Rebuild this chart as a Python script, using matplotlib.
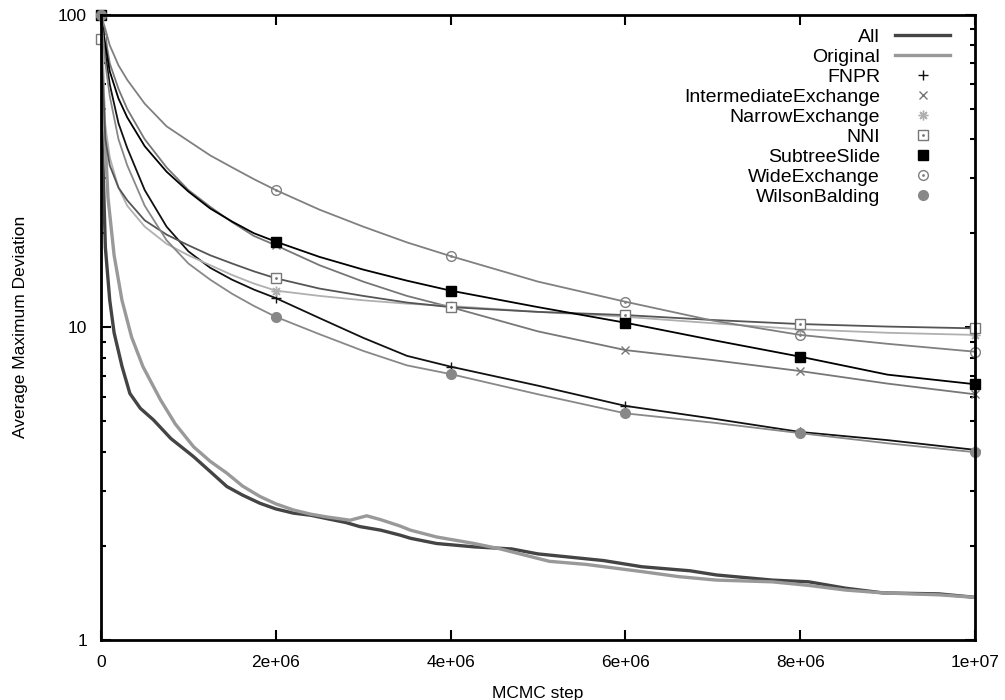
import matplotlib
matplotlib.use("Agg")
import matplotlib.pyplot as plt
from matplotlib.lines import Line2D
from matplotlib.ticker import FixedLocator, LogLocator, NullFormatter
import numpy as np

plt.rcParams["font.family"] = ["Liberation Sans", "DejaVu Sans"]

# operator runs, steps in millions
steps_m = [0, 0.05, 0.1, 0.2, 0.3, 0.5, 0.75, 1.0, 1.25, 1.5, 1.75, 2,
           2.5, 3, 3.5, 4, 5, 6, 7, 8, 9, 10]

wide = [100, 90, 80, 69, 62, 52, 44, 39.5, 35.5, 32.5, 29.8, 27.5,
        23.8, 21, 18.7, 16.9, 14, 12.07, 10.5, 9.45, 8.85, 8.35]
intermediate = [100, 85, 70, 58, 50, 40, 32.5, 27.5, 24.3, 21.7, 19.6, 18.3,
                15.8, 14.0, 12.6, 11.6, 9.7, 8.45, 7.85, 7.24, 6.6, 6.1]
subtree = [100, 80, 66, 54, 47, 38, 31.5, 27.2, 24, 21.8, 20.0, 18.8,
           16.8, 15.3, 14.1, 13.1, 11.6, 10.34, 9.1, 8.05, 7.05, 6.57]
fnpr = [100, 75, 60, 45, 37.5, 27.5, 21, 17.5, 15.5, 14.2, 13.2, 12.4,
        10.7, 9.25, 8.1, 7.48, 6.5, 5.6, 5.1, 4.62, 4.35, 4.05]
wilson = [100, 70, 55, 40, 33, 24.5, 19, 16, 14.2, 12.8, 11.7, 10.8,
          9.5, 8.4, 7.55, 7.08, 6.1, 5.3, 4.95, 4.58, 4.25, 3.98]
nni = [84, 40, 33, 28, 25.5, 22, 19.8, 18.3, 17.0, 16, 15.1, 14.35,
       13.3, 12.6, 12.0, 11.6, 11.2, 10.94, 10.55, 10.24, 10.05, 9.92]
narrow = [100, 44, 35, 28, 24.5, 21, 18.5, 17, 15.8, 14.7, 13.8, 13.1,
          12.6, 12.2, 11.9, 11.7, 11.2, 10.8, 10.3, 9.85, 9.6, 9.45]

# combined runs
all_steps_m = [0, 0.02, 0.05, 0.1, 0.15, 0.24, 0.33, 0.45, 0.6, 0.8, 1.06, 1.25,
               1.44, 1.62, 1.82, 2.0, 2.2, 2.4, 2.58, 2.8, 2.96, 3.2, 3.42, 3.54,
               3.84, 4.27, 4.7, 5.0, 5.33, 5.75, 6.19, 6.74, 7.04, 7.68, 8.1,
               8.52, 8.95, 9.59, 10]
all_ops = [100, 35, 18, 12.2, 9.6, 7.5, 6.14, 5.5, 5.05, 4.4, 3.85, 3.45,
           3.09, 2.9, 2.73, 2.62, 2.54, 2.5, 2.44, 2.37, 2.3, 2.24, 2.16, 2.11,
           2.03, 1.98, 1.95, 1.88, 1.84, 1.79, 1.71, 1.66, 1.61, 1.55, 1.53,
           1.46, 1.41, 1.4, 1.365]
orig_steps_m = [0, 0.03, 0.08, 0.15, 0.24, 0.35, 0.48, 0.68, 0.85, 1.06, 1.25,
                1.44, 1.62, 1.82, 2.0, 2.2, 2.4, 2.58, 2.85, 3.04, 3.2, 3.42,
                3.54, 3.84, 4.27, 4.57, 5.13, 5.55, 6.19, 6.61, 7.04, 7.68,
                8.1, 8.52, 8.95, 9.59, 10]
original = [100, 50, 26, 17, 12.2, 9.3, 7.48, 5.86, 4.9, 4.14, 3.72,
            3.41, 3.1, 2.87, 2.72, 2.6, 2.52, 2.47, 2.41, 2.49, 2.42, 2.31,
            2.24, 2.13, 2.03, 1.95, 1.78, 1.74, 1.65, 1.59, 1.55, 1.53,
            1.49, 1.44, 1.41, 1.39, 1.365]

x = np.array(steps_m) * 1e6
marks = [i for i, s in enumerate(steps_m) if s % 2 == 0]

fig = plt.figure(figsize=(10.05, 7.0), dpi=100)
ax = fig.add_axes([0.1005, 0.0864, 0.8696, 0.8922])

ax.plot(np.array(all_steps_m) * 1e6, all_ops, color="#444444", lw=2.4)
ax.plot(np.array(orig_steps_m) * 1e6, original, color="#999999", lw=2.4)

ms = 7
kw = dict(lw=1.3, markevery=marks, clip_on=False, zorder=3)
ax.plot(x, fnpr, color="#111111", marker="+", ms=ms, mew=1.0, **kw)
ax.plot(x, intermediate, color="#777777", marker="x", ms=ms * 0.9, mew=1.0, **kw)
ax.plot(x, narrow, color="#b0b0b0", marker=(8, 2, 0), ms=ms, mew=1.0, **kw)
ax.plot(x, nni, color="#555555", marker="s", ms=ms, mfc="white", mec="#777777", mew=1.0, **kw)
ax.plot(x[marks], np.array(nni)[marks], ls="none", marker=".", ms=2, color="#777777", clip_on=False, zorder=3)
ax.plot(x, subtree, color="black", marker="s", ms=ms, **kw)
ax.plot(x, wide, color="#808080", marker="o", ms=ms, mfc="none", mew=1.0, **kw)
ax.plot(x[marks], np.array(wide)[marks], ls="none", marker=".", ms=2, color="#808080", clip_on=False, zorder=3)
ax.plot(x, wilson, color="#888888", marker="o", ms=ms, **kw)

ax.set_yscale("log")
ax.set_ylim(1, 100)
ax.set_xlim(0, 1e7)
ax.xaxis.set_major_locator(FixedLocator([0, 2e6, 4e6, 6e6, 8e6, 1e7]))
ax.set_xticklabels(["0", "2e+06", "4e+06", "6e+06", "8e+06", "1e+07"])
ax.yaxis.set_major_locator(FixedLocator([1, 10, 100]))
ax.set_yticklabels(["1", "10", "100"])
ax.yaxis.set_minor_locator(LogLocator(base=10, subs=np.arange(2, 10)))
ax.yaxis.set_minor_formatter(NullFormatter())

ax.tick_params(which="both", direction="in", top=True, right=True, labelsize=12.5, width=1.5)
ax.tick_params(which="major", length=7)
ax.tick_params(which="minor", length=3.5)
ax.tick_params(axis="x", pad=11)
ax.tick_params(axis="y", pad=10)
for sp in ax.spines.values():
    sp.set_linewidth(2.0)
    sp.set_zorder(4)

ax.set_xlabel("MCMC step", fontsize=12.5, labelpad=12)
ax.set_ylabel("Average Maximum Deviation", fontsize=12.5, labelpad=22)

handles = [
    Line2D([], [], color="#444444", lw=2.4),
    Line2D([], [], color="#999999", lw=2.4),
    Line2D([], [], ls="none", marker="+", ms=ms, mew=1.0, color="#111111"),
    Line2D([], [], ls="none", marker="x", ms=ms * 0.9, mew=1.0, color="#777777"),
    Line2D([], [], ls="none", marker=(8, 2, 0), ms=ms, mew=1.0, color="#b0b0b0"),
    (Line2D([], [], ls="none", marker="s", ms=ms, mfc="white", mec="#777777", mew=1.0),
     Line2D([], [], ls="none", marker=".", ms=2, color="#777777")),
    Line2D([], [], ls="none", marker="s", ms=ms, color="black"),
    (Line2D([], [], ls="none", marker="o", ms=ms, mfc="none", mew=1.0, color="#808080"),
     Line2D([], [], ls="none", marker=".", ms=2, color="#808080")),
    Line2D([], [], ls="none", marker="o", ms=ms, color="#888888"),
]
labels = ["All", "Original", "FNPR", "IntermediateExchange", "NarrowExchange",
          "NNI", "SubtreeSlide", "WideExchange", "WilsonBalding"]
ax.legend(handles, labels, loc="upper right", bbox_to_anchor=(0.9805, 0.9906),
          frameon=False, markerfirst=False, fontsize=14, labelspacing=0.12,
          handlelength=2.83, handletextpad=0.77, borderaxespad=0)

fig.savefig("out.png", dpi=100)
